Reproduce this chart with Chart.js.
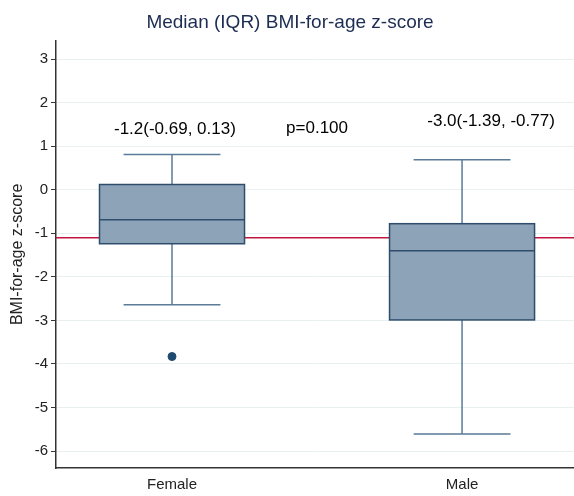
<!DOCTYPE html>
<html>
<head>
<meta charset="utf-8">
<script src="https://cdn.jsdelivr.net/npm/chart.js@4.4.0/dist/chart.umd.min.js"></script>
<style>
  body { margin: 0; background: #fff; }
  canvas { display: block; }
</style>
</head>
<body>
<canvas id="myChart" width="574" height="496"></canvas>
<script>
// = Datos
const groups = ['Female', 'Male'];
const groupPos = [1, 2];
const whiskerLow = [-2.64, -5.61];
const q1 = [-1.24, -2.99];
const median = [-0.69, -1.40];
const q3 = [0.12, -0.78];
const whiskerHigh = [0.81, 0.69];
const outliersX = [1];
const outliersY = [-3.83];
const refLine = -1.10;
const yTicks = [-6, -5, -4, -3, -2, -1, 0, 1, 2, 3];
const notes = ['-1.2(-0.69, 0.13)', 'p=0.100', '-3.0(-1.39, -0.77)'];
const notesX = [1.01, 1.5, 2.1];
const notesY = [1.38, 1.42, 1.56];

const FONT = "'Liberation Sans', Arial, sans-serif";

// Dibujar cajas, bigotes y textos con las escalas del grafico
const boxPlugin = {
    id: 'boxes',
    afterDatasetsDraw(chart) {
        const ctx = chart.ctx;
        const xs = chart.scales.x;
        const ys = chart.scales.y;
        ctx.save();
        groups.forEach((g, i) => {
            const cx = xs.getPixelForValue(groupPos[i]);
            const left = xs.getPixelForValue(groupPos[i] - 0.25);
            const right = xs.getPixelForValue(groupPos[i] + 0.25);
            const capL = xs.getPixelForValue(groupPos[i] - 0.167);
            const capR = xs.getPixelForValue(groupPos[i] + 0.167);
            const yLo = ys.getPixelForValue(whiskerLow[i]);
            const yQ1 = ys.getPixelForValue(q1[i]);
            const yMed = ys.getPixelForValue(median[i]);
            const yQ3 = ys.getPixelForValue(q3[i]);
            const yHi = ys.getPixelForValue(whiskerHigh[i]);

            // bigotes
            ctx.strokeStyle = '#5b7b98';
            ctx.lineWidth = 1.5;
            ctx.beginPath();
            ctx.moveTo(cx, yQ3); ctx.lineTo(cx, yHi);
            ctx.moveTo(capL, yHi); ctx.lineTo(capR, yHi);
            ctx.moveTo(cx, yQ1); ctx.lineTo(cx, yLo);
            ctx.moveTo(capL, yLo); ctx.lineTo(capR, yLo);
            ctx.stroke();

            // caja
            ctx.fillStyle = '#8da3b8';
            ctx.fillRect(left, yQ3, right - left, yQ1 - yQ3);
            ctx.strokeStyle = '#2e4d6d';
            ctx.lineWidth = 1.5;
            ctx.strokeRect(left, yQ3, right - left, yQ1 - yQ3);
            ctx.beginPath();
            ctx.moveTo(left, yMed); ctx.lineTo(right, yMed);
            ctx.stroke();
        });

        // textos
        ctx.fillStyle = '#000';
        ctx.font = '17px ' + FONT;
        ctx.textAlign = 'center';
        ctx.textBaseline = 'middle';
        notes.forEach((t, i) => {
            ctx.fillText(t, xs.getPixelForValue(notesX[i]), ys.getPixelForValue(notesY[i]));
        });
        ctx.restore();
    }
};

const ctx = document.getElementById('myChart').getContext('2d');
const myChart = new Chart(ctx, {
    type: 'scatter',
    data: {
        datasets: [
            {
                type: 'line',
                data: [{ x: 0.6, y: refLine }, { x: 2.386, y: refLine }],
                borderColor: '#c0163f',
                borderWidth: 1.5,
                pointRadius: 0
            },
            {
                data: outliersX.map((x, i) => ({ x: x, y: outliersY[i] })),
                backgroundColor: '#1f4a70',
                borderColor: '#1f4a70',
                pointRadius: 4
            }
        ]
    },
    options: {
        responsive: false,
        animation: false,
        layout: { autoPadding: false, padding: { left: 6, right: 0, top: 0, bottom: 0 } },
        plugins: {
            legend: { display: false },
            tooltip: { enabled: false },
            title: {
                display: true,
                text: 'Median (IQR) BMI-for-age z-score',
                color: '#1c2c52',
                font: { family: FONT, size: 19, weight: 'normal' },
                padding: { top: 11, bottom: 7 }
            }
        },
        scales: {
            x: {
                type: 'linear',
                min: 0.6,
                max: 2.386,
                afterBuildTicks: axis => { axis.ticks = groupPos.map(v => ({ value: v })); },
                afterFit: axis => { axis.height = 28; },
                ticks: {
                    callback: v => groups[groupPos.indexOf(v)] || '',
                    color: '#222',
                    font: { family: FONT, size: 15 },
                    padding: 8,
                    maxRotation: 0
                },
                grid: { display: false, drawTicks: false },
                border: { color: '#333', width: 1.5 }
            },
            y: {
                min: -6.39,
                max: 3.42,
                afterBuildTicks: axis => { axis.ticks = yTicks.map(v => ({ value: v })); },
                afterFit: axis => { axis.width = 50; },
                ticks: {
                    color: '#222',
                    font: { family: FONT, size: 15 },
                    padding: 3
                },
                grid: { color: '#e8f0f2', tickColor: '#333', tickLength: 5, lineWidth: 1 },
                border: { color: '#333', width: 1.5 },
                title: {
                    display: true,
                    text: 'BMI-for-age z-score',
                    color: '#222',
                    font: { family: FONT, size: 16 },
                    padding: { top: 2, bottom: 4 }
                }
            }
        }
    },
    plugins: [boxPlugin]
});
</script>
</body>
</html>
